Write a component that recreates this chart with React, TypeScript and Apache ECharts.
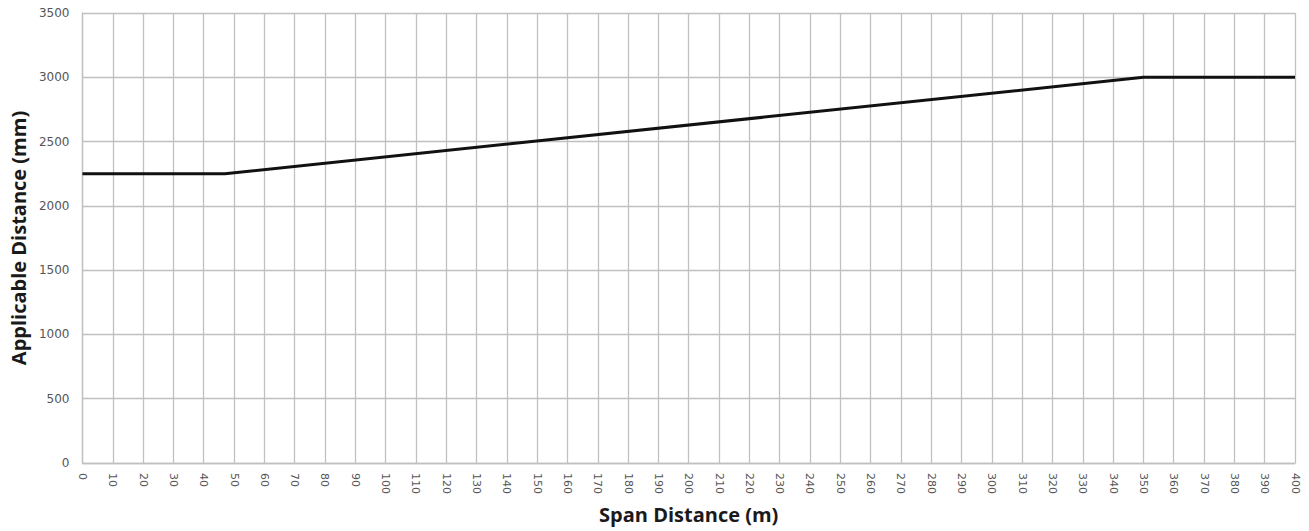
import React, { useEffect, useRef } from "react";
import * as echarts from "echarts";

const spanDistance = [0, 47, 350, 400];
const applicableDistance = [2250, 2250, 3000, 3000];

const xTitle = "Span Distance (m)";
const yTitle = "Applicable Distance (mm)";

export default function App() {
  const ref = useRef<HTMLDivElement>(null);
  useEffect(() => {
    document.body.style.margin = "0";
    const chart = echarts.init(ref.current!, null, { renderer: "svg" });
    const gridColor = "#c0c0c0";
    chart.setOption({
      animation: false,
      backgroundColor: "#ffffff",
      grid: { left: 80, right: 14, top: 13, bottom: 68, containLabel: false },
      xAxis: {
        type: "value",
        min: 0,
        max: 400,
        interval: 10,
        name: xTitle,
        nameLocation: "middle",
        nameGap: 41,
        nameTextStyle: { fontFamily: "Open Sans", fontWeight: "bold", fontSize: 20, color: "#1a1a1a" },
        axisLine: { show: true, lineStyle: { color: gridColor, width: 1.3 } },
        axisTick: { show: false },
        axisLabel: { rotate: -90, fontSize: 11, color: "#555", margin: 10, fontFamily: "DejaVu Sans" },
        splitLine: { show: true, lineStyle: { color: gridColor, width: 1.3 } },
      },
      yAxis: {
        type: "value",
        min: 0,
        max: 3500,
        interval: 500,
        name: yTitle,
        nameLocation: "middle",
        nameGap: 47,
        nameTextStyle: { fontFamily: "Open Sans", fontWeight: "bold", fontSize: 20, color: "#1a1a1a" },
        axisLine: { show: true, lineStyle: { color: gridColor, width: 1.3 } },
        axisTick: { show: false },
        axisLabel: {
          fontSize: 12,
          color: "#555",
          margin: 13,
          fontFamily: "DejaVu Sans",
          formatter: (v: number) => String(v),
        },
        splitLine: { show: true, lineStyle: { color: gridColor, width: 1.3 } },
      },
      series: [
        {
          type: "line",
          data: spanDistance.map((x, i) => [x, applicableDistance[i]]),
          showSymbol: false,
          lineStyle: { color: "#111", width: 3 },
        },
      ],
    });
    return () => chart.dispose();
  }, []);
  return <div ref={ref} style={{ width: 1309, height: 531 }} />;
}
